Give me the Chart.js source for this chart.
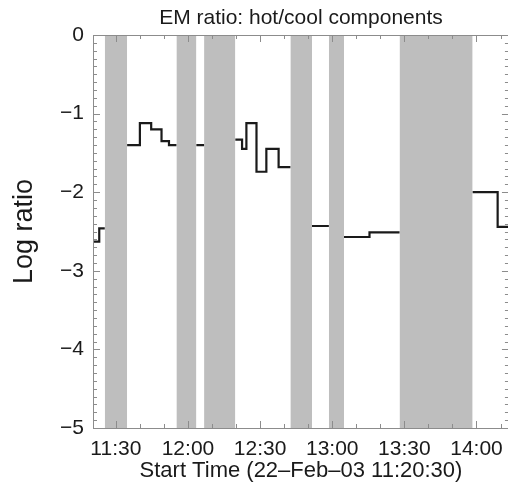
<!DOCTYPE html>
<html>
<head>
<meta charset="utf-8">
<script src="https://cdn.jsdelivr.net/npm/chart.js@4"></script>
<style>
  html, body { margin: 0; padding: 0; background: #fff; overflow: hidden; }
  canvas { display: block; }
</style>
</head>
<body>
<canvas id="emRatio" width="512" height="484"></canvas>
<script>
// EM ratio step plot — minutes after 11:00 on the x axis
const stepTimes = [20.5, 23.1, 25.4, 30, 34.7, 40.0, 44.7, 49.0, 52.1, 55.2, 60, 63.5, 66.7, 72,
  79.7, 82.5, 84.3, 88.5, 92.6, 97.7, 102.6, 107, 111.6, 118.6, 121, 124.9, 135.5, 148.0, 160,
  178.4, 188.8, 193.5];
const stepValues = [-2.63, -2.46, -2.46, null, -1.40, -1.12, -1.20, -1.35, -1.40, -1.40, null, -1.40, -1.40, null,
  -1.33, -1.45, -1.12, -1.74, -1.45, -1.68, -1.68, null, -2.43, -2.43, null, -2.57, -2.51, -2.51, null,
  -2.00, -2.44, -2.44];

// shaded intervals (no data)
const bandStarts = [25.4, 55.2, 66.7, 102.6, 118.6, 148.0];
const bandEnds = [34.7, 63.5, 79.7, 111.6, 124.9, 178.4];

const xTickValues = [30, 60, 90, 120, 150, 180];
const yTickValues = [0, -1, -2, -3, -4, -5];
const X_MIN = 20.5;
const X_MAX = 193.5;

(() => {
  'use strict';

  const FONT = '"Liberation Sans", Arial, Helvetica, sans-serif';
  const TEXT = '#1a1a1a';
  const AXIS = '#8c8c8c';
  const BAND = '#bebebe';

  const fmtTime = (v) => `${11 + Math.floor(v / 60)}:${String(v % 60).padStart(2, '0')}`;
  const fmtLog = (v) => (v === 0 ? '0' : `\u2212${Math.abs(v)}`);

  // IDL style box with inward ticks on all four sides
  const boxTicks = {
    id: 'boxTicks',
    afterDatasetsDraw(chart) {
      const { ctx, chartArea: a, scales: { x, y } } = chart;
      ctx.save();
      ctx.strokeStyle = AXIS;
      ctx.lineWidth = 1;
      ctx.beginPath();
      for (let m = 30; m <= X_MAX; m += 10) {
        const px = Math.round(x.getPixelForValue(m)) + 0.5;
        const len = m % 30 === 0 ? 7 : 4;
        ctx.moveTo(px, a.bottom); ctx.lineTo(px, a.bottom - len);
        ctx.moveTo(px, a.top); ctx.lineTo(px, a.top + len);
      }
      for (let k = 0; k <= 50; k++) {
        const py = Math.round(y.getPixelForValue(-k / 10)) + 0.5;
        const len = k % 10 === 0 ? 7 : 4;
        ctx.moveTo(a.left, py); ctx.lineTo(a.left + len, py);
        ctx.moveTo(a.right, py); ctx.lineTo(a.right - len, py);
      }
      ctx.stroke();
      ctx.strokeRect(Math.round(a.left) + 0.5, Math.round(a.top) + 0.5,
        Math.round(a.width), Math.round(a.height));
      ctx.restore();
    },
  };

  const bandSets = bandStarts.map((s, i) => ({
    data: [{ x: s, y: 0 }, { x: bandEnds[i], y: 0 }],
    borderWidth: 0,
    pointRadius: 0,
    backgroundColor: BAND,
    fill: { value: -5 },
  }));

  // each value holds from its own time up to the next point
  const stepSet = {
    data: stepTimes.map((t, i) => ({ x: t, y: stepValues[i] })),
    stepped: 'before',
    borderColor: '#1a1a1a',
    borderWidth: 2.2,
    pointRadius: 0,
    fill: false,
    spanGaps: false,
  };

  new Chart(document.getElementById('emRatio'), {
    type: 'line',
    data: { datasets: [stepSet, ...bandSets] },
    options: {
      responsive: false,
      animation: false,
      layout: { padding: { left: 0, right: 2, top: 0, bottom: 0 } },
      plugins: {
        legend: { display: false },
        tooltip: { enabled: false },
        title: {
          display: true,
          fullSize: false,
          text: 'EM ratio: hot/cool components',
          color: TEXT,
          font: { family: FONT, size: 21, weight: 'normal', lineHeight: 1.2 },
          padding: { top: 6, bottom: 3.8 },
        },
      },
      scales: {
        x: {
          type: 'linear',
          min: X_MIN,
          max: X_MAX,
          grid: { display: false, drawTicks: false },
          border: { display: false },
          afterBuildTicks: (s) => { s.ticks = xTickValues.map((value) => ({ value })); },
          afterFit: (s) => { s.height = 56; },
          ticks: {
            autoSkip: false,
            maxRotation: 0,
            padding: 9,
            color: TEXT,
            font: { family: FONT, size: 21 },
            callback: (v) => fmtTime(v),
          },
          title: {
            display: true,
            text: 'Start Time (22\u2013Feb\u201303 11:20:30)',
            color: TEXT,
            font: { family: FONT, size: 22 },
            padding: { top: 0, bottom: 0 },
          },
        },
        y: {
          min: -5,
          max: 0,
          grid: { display: false, drawTicks: false },
          border: { display: false },
          afterBuildTicks: (s) => { s.ticks = yTickValues.map((value) => ({ value })); },
          afterFit: (s) => { s.width = 93; },
          ticks: {
            autoSkip: false,
            padding: 9,
            color: TEXT,
            font: { family: FONT, size: 21 },
            callback: (v) => fmtLog(v),
          },
          title: {
            display: true,
            text: 'Log ratio',
            color: TEXT,
            font: { family: FONT, size: 27 },
            padding: { top: 8, bottom: 0 },
          },
        },
      },
    },
    plugins: [boxTicks],
  });
})();
</script>
</body>
</html>
